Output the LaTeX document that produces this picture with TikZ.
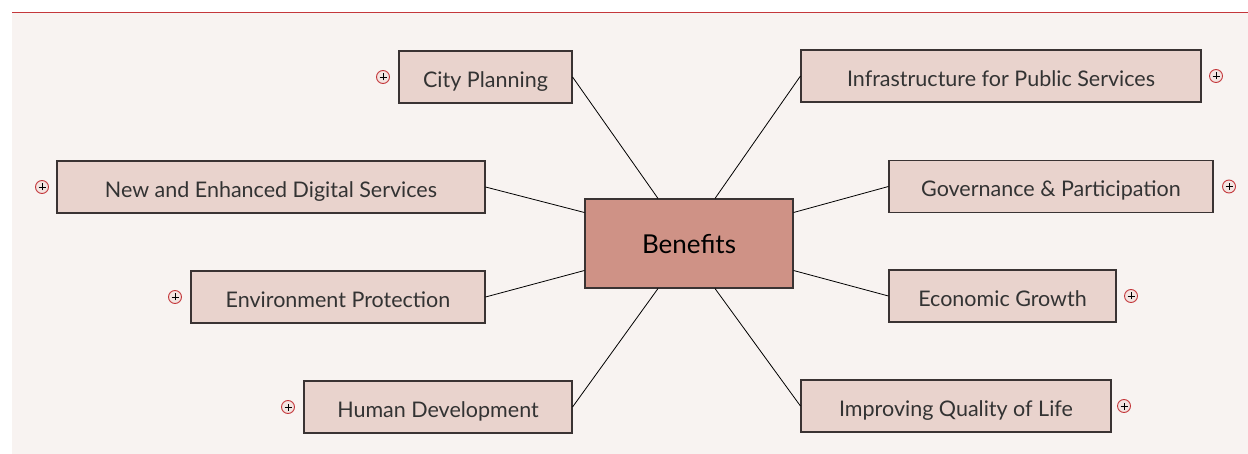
\documentclass[tikz,border=0pt]{standalone}
\usepackage{fontspec}
\setmainfont{Lato}
\usetikzlibrary{calc}
\definecolor{pagebg}{HTML}{F8F3F1}
\definecolor{topicfill}{HTML}{CF9286}
\definecolor{subfill}{HTML}{E9D3CD}
\definecolor{edgegray}{HTML}{3A3333}
\definecolor{textgray}{HTML}{333333}
\definecolor{markred}{HTML}{C4373B}
\definecolor{markfill}{HTML}{F3E4E1}
\tikzset{
  subtopic/.style={draw=edgegray, fill=subfill, line width=1.1pt, minimum height=52pt,
                   inner sep=0pt, text height=20.5pt, text depth=0pt,
                   text=textgray, font=\fontsize{21.5}{25}\selectfont},
  topic/.style={subtopic, fill=topicfill, minimum width=208pt, minimum height=89pt,
                text height=21pt, text=black, font=\fontsize{26}{30}\selectfont},
  expander/.style={circle, draw=markred, fill=markfill, line width=0.9pt,
                   minimum size=13pt, inner sep=0pt,
                   path picture={\draw[black, line width=0.8pt]
                     ([xshift=-3.5pt]path picture bounding box.center) -- ([xshift=3.5pt]path picture bounding box.center)
                     ([yshift=-3.5pt]path picture bounding box.center) -- ([yshift=3.5pt]path picture bounding box.center);}},
  branch/.style={draw=black, line width=0.8pt},
}
\begin{document}
\begin{tikzpicture}[x=1pt, y=-1pt]
    \useasboundingbox (0,0) rectangle (1248,454);
    \fill[pagebg] (12,13) rectangle (1248,454);
    \draw[markred, line width=1.5pt] (12,12.5) -- (1248,12.5);
    % central topic
    \node[topic] (ben) at (689,243.5) {Benefits};
    \coordinate (ben-nw) at ([xshift=-31pt]ben.north);
    \coordinate (ben-ne) at ([xshift=26pt]ben.north);
    \coordinate (ben-sw) at ([xshift=-31pt]ben.south);
    \coordinate (ben-se) at ([xshift=26pt]ben.south);
    \coordinate (ben-wn) at ([yshift=31pt]ben.west);
    \coordinate (ben-ws) at ([yshift=-27pt]ben.west);
    \coordinate (ben-en) at ([yshift=31pt]ben.east);
    \coordinate (ben-es) at ([yshift=-27pt]ben.east);
    % left side
    \node[subtopic, minimum width=173pt] (city) at (485.5,77) {City Planning};
    \node[subtopic, minimum width=428pt] (digital) at (271,187) {New and Enhanced Digital Services};
    \node[subtopic, minimum width=294pt] (envir) at (338,297) {Environment Protection};
    \node[subtopic, minimum width=268pt] (human) at (438,407) {Human Development};
    % right side
    \node[subtopic, minimum width=400pt] (infra) at (1001,76) {Infrastructure for Public Services};
    \node[subtopic, minimum width=324pt] (govern) at (1051,186.5) {Governance \& Participation};
    \node[subtopic, minimum width=227pt] (econ) at (1002.5,296) {Economic Growth};
    \node[subtopic, minimum width=310pt] (quality) at (956,406) {Improving Quality of Life};
    % expand marks
    \node[expander] (x-city) at (383,77) {};
    \node[expander] (x-digital) at (42,187) {};
    \node[expander] (x-envir) at (175,297) {};
    \node[expander] (x-human) at (288,407) {};
    \node[expander] (x-infra) at (1216,76) {};
    \node[expander] (x-govern) at (1229,186.5) {};
    \node[expander] (x-econ) at (1131,296) {};
    \node[expander] (x-quality) at (1124,406) {};
    % branches
    \draw[branch] (city.east) -- (ben-nw);
    \draw[branch] (infra.west) -- (ben-ne);
    \draw[branch] (digital.east) -- (ben-wn);
    \draw[branch] (envir.east) -- (ben-ws);
    \draw[branch] (govern.west) -- (ben-en);
    \draw[branch] (econ.west) -- (ben-es);
    \draw[branch] (human.east) -- (ben-sw);
    \draw[branch] (quality.west) -- (ben-se);
\end{tikzpicture}
\end{document}
